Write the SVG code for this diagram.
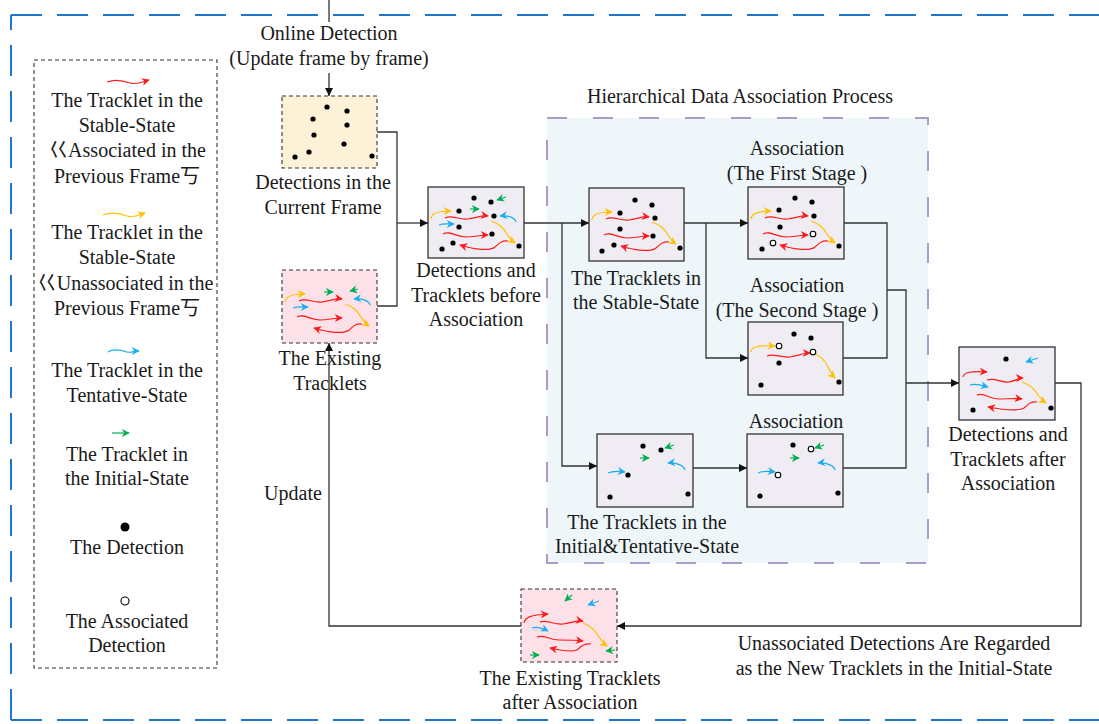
<svg xmlns="http://www.w3.org/2000/svg" width="1099" height="724" viewBox="0 0 1099 724">
<defs>
<style>
text{font-family:"Liberation Serif","Noto Sans CJK SC",serif;font-size:20px;fill:#1a1a1a;text-anchor:middle}
.conn{fill:none;stroke:#333;stroke-width:1.3}
.arr{marker-end:url(#ma)}
.box{fill:#efedf3;stroke:#222;stroke-width:1.2}
.dbox{stroke:#333;stroke-width:1.1;stroke-dasharray:4 3}
.r{fill:none;stroke:#ff1a1a;stroke-width:1.2;marker-end:url(#mr)}
.y{fill:none;stroke:#ffc000;stroke-width:1.2;marker-end:url(#my)}
.b{fill:none;stroke:#1aaef0;stroke-width:1.2;marker-end:url(#mb)}
.g{fill:none;stroke:#00b050;stroke-width:1.2;marker-end:url(#mg)}
.d{fill:#000}
.o{fill:#fff;stroke:#000;stroke-width:1.1}
</style>
<marker id="ma" viewBox="0 0 10 10" refX="10" refY="5" markerWidth="10" markerHeight="8" markerUnits="userSpaceOnUse" orient="auto"><path d="M0 0L10 5L0 10z" fill="#111"/></marker>
<marker id="mr" viewBox="0 0 10 10" refX="9" refY="5" markerWidth="9" markerHeight="8" markerUnits="userSpaceOnUse" orient="auto"><path d="M0 0L10 5L0 10L3 5z" fill="#ff1a1a"/></marker>
<marker id="my" viewBox="0 0 10 10" refX="9" refY="5" markerWidth="9" markerHeight="8" markerUnits="userSpaceOnUse" orient="auto"><path d="M0 0L10 5L0 10L3 5z" fill="#ffc000"/></marker>
<marker id="mb" viewBox="0 0 10 10" refX="9" refY="5" markerWidth="9" markerHeight="8" markerUnits="userSpaceOnUse" orient="auto"><path d="M0 0L10 5L0 10L3 5z" fill="#1aaef0"/></marker>
<marker id="mg" viewBox="0 0 10 10" refX="9" refY="5" markerWidth="8" markerHeight="8" markerUnits="userSpaceOnUse" orient="auto"><path d="M0 0L10 5L0 10L3 5z" fill="#00b050"/></marker>
<g id="stab">
<path class="y" d="M3 32C3 27 9 24 23 24"/>
<path class="r" d="M17 31C24 27 30 33 40 32C48 31 53 28 60 29"/>
<path class="y" d="M63 34C71 37 75 40 79 47C82 52 84 54 87 56"/>
<path class="r" d="M15 47C22 43 28 50 38 50C46 50 52 48 60 48"/>
<path class="r" d="M80 54C73 53 71 57 67 60C62 64 48 63 32 58"/>
</g>
<g id="tent">
<path class="g" d="M42 22L51 22"/>
<path class="b" d="M11 38C15 36 20 37 26 37"/>
<path class="b" d="M88 35C87 31 81 28 72 29"/>
</g>
</defs>

<g id="frame" fill="none" stroke="#2077c9" stroke-width="2" stroke-dasharray="31 15">
<path d="M11 15H1099"/>
<path d="M11 720V15"/>
<path d="M11 720H1099"/>
</g>

<g id="legend">
<rect x="34" y="60" width="183" height="608" fill="none" class="dbox"/>
<path class="r" d="M107 82C115 79 122 80 130 83C137 85 142 82 149 80"/>
<text x="127" y="107">The Tracklet in the</text>
<text x="127" y="132">Stable-State</text>
<text x="127" y="157">巜Associated in the</text>
<text x="127" y="183">Previous Frame丂</text>
<path class="y" d="M103 215C111 212 119 213 127 216C134 218 139 215 145 213"/>
<text x="127" y="239">The Tracklet in the</text>
<text x="127" y="264">Stable-State</text>
<text x="125" y="290">巜Unassociated in the</text>
<text x="127" y="315">Previous Frame丂</text>
<path class="b" d="M108 352C114 348 121 350 127 352C131 353 135 351 139 351"/>
<text x="127" y="377">The Tracklet in the</text>
<text x="127" y="402">Tentative-State</text>
<path class="g" d="M112 433L129 433"/>
<text x="127" y="461">The Tracklet in</text>
<text x="127" y="485">the Initial-State</text>
<circle cx="125" cy="527" r="4.5" class="d"/>
<text x="127" y="554">The Detection</text>
<circle cx="125" cy="601" r="4" class="o"/>
<text x="127" y="628">The Associated</text>
<text x="127" y="652">Detection</text>
</g>

<g id="online-detection">
<text x="329" y="40">Online Detection</text>
<text x="329" y="65">(Update frame by frame)</text>
</g>

<g id="detections-current">
<rect x="282" y="96" width="95" height="72" fill="#fdf2d8" class="dbox"/>
<g class="d">
<circle cx="327" cy="107" r="2.6"/><circle cx="347" cy="111" r="2.6"/><circle cx="313" cy="119" r="2.6"/>
<circle cx="347" cy="125" r="2.6"/><circle cx="314" cy="135" r="2.6"/><circle cx="344" cy="144" r="2.6"/>
<circle cx="309" cy="152" r="2.6"/><circle cx="295" cy="157" r="2.6"/><circle cx="372" cy="156" r="2.6"/>
</g>
<text x="323" y="189">Detections in the</text>
<text x="323" y="214">Current Frame</text>
</g>

<g id="existing-tracklets">
<rect x="282" y="270" width="95" height="73" fill="#fde1e8" class="dbox"/>
<use href="#stab" x="282" y="270"/>
<use href="#tent" x="282" y="270"/>
<path class="g" d="M358 289L350 291"/>
<text x="330" y="365">The Existing</text>
<text x="330" y="390">Tracklets</text>
</g>

<g id="before-association">
<rect x="428" y="187" width="96" height="71" class="box"/>
<g transform="translate(428,187)">
<use href="#stab"/><use href="#tent"/>
<path class="g" d="M78 10L69 13"/>
<g class="d">
<circle cx="46" cy="11" r="2.6"/><circle cx="63" cy="15" r="2.6"/><circle cx="31" cy="24" r="2.6"/>
<circle cx="66" cy="29" r="2.6"/><circle cx="31" cy="40" r="2.6"/><circle cx="64" cy="47" r="2.6"/>
<circle cx="25" cy="56" r="2.6"/><circle cx="14" cy="62" r="2.6"/><circle cx="91" cy="59" r="2.6"/>
</g>
</g>
<text x="476" y="277">Detections and</text>
<text x="476" y="302">Tracklets before</text>
<text x="476" y="326">Association</text>
</g>

<g id="hierarchical-process">
<rect x="547" y="118" width="381" height="445" fill="#eef6fa" stroke="#a99cc9" stroke-width="2" stroke-dasharray="20 26"/>
<text x="740" y="103">Hierarchical Data Association Process</text>
</g>

<g id="stable-state">
<rect x="589" y="188" width="95" height="73" class="box"/>
<g transform="translate(589,188)">
<use href="#stab"/>
<g class="d">
<circle cx="46" cy="12" r="2.6"/><circle cx="63" cy="17" r="2.6"/><circle cx="31" cy="25" r="2.6"/>
<circle cx="66" cy="30" r="2.6"/><circle cx="31" cy="41" r="2.6"/><circle cx="64" cy="48" r="2.6"/>
<circle cx="25" cy="57" r="2.6"/><circle cx="13" cy="63" r="2.6"/><circle cx="91" cy="60" r="2.6"/>
</g>
</g>
<text x="636" y="285">The Tracklets in</text>
<text x="636" y="309">the Stable-State</text>
</g>

<g id="association-first">
<text x="797" y="155">Association</text>
<text x="797" y="180">(The First Stage )</text>
<rect x="748" y="187" width="96" height="72" class="box"/>
<g transform="translate(748,187)">
<use href="#stab"/>
<g class="d">
<circle cx="47" cy="11" r="2.6"/><circle cx="64" cy="15" r="2.6"/><circle cx="31" cy="23" r="2.6"/>
<circle cx="66" cy="29" r="2.6"/><circle cx="32" cy="40" r="2.6"/>
<circle cx="14" cy="62" r="2.6"/><circle cx="91" cy="59" r="2.6"/>
</g>
<circle cx="65" cy="47" r="2.8" class="o"/><circle cx="25" cy="56" r="2.8" class="o"/>
</g>
</g>

<g id="association-second">
<text x="797" y="292">Association</text>
<text x="797" y="317">(The Second Stage )</text>
<rect x="748" y="322" width="95" height="73" class="box"/>
<g transform="translate(748,322)">
<path class="y" d="M3 30C3 25 10 23 27 24"/>
<path class="r" d="M19 34C26 31 32 36 42 35C50 34 55 31 62 31"/>
<path class="y" d="M65 31C73 34 77 38 80 45C83 51 85 54 87 56"/>
<g class="d">
<circle cx="46" cy="12" r="2.6"/><circle cx="63" cy="16" r="2.6"/><circle cx="31" cy="41" r="2.6"/>
<circle cx="13" cy="63" r="2.6"/><circle cx="91" cy="60" r="2.6"/>
</g>
<circle cx="31" cy="24" r="2.8" class="o"/><circle cx="65" cy="30" r="2.8" class="o"/>
</g>
</g>

<g id="initial-tentative">
<rect x="597" y="434" width="96" height="73" class="box"/>
<g transform="translate(597,434)">
<path class="g" d="M43 24L52 24"/>
<path class="g" d="M77 11L68 14"/>
<path class="b" d="M11 39C15 37 21 37 28 38"/>
<path class="b" d="M88 36C87 32 80 28 71 29"/>
<g class="d">
<circle cx="46" cy="12" r="2.6"/><circle cx="64" cy="16" r="2.6"/><circle cx="31" cy="41" r="2.6"/>
<circle cx="13" cy="63" r="2.6"/><circle cx="91" cy="60" r="2.6"/>
</g>
</g>
<text x="647" y="529">The Tracklets in the</text>
<text x="647" y="553">Initial&amp;Tentative-State</text>
</g>

<g id="association-third">
<text x="796" y="428">Association</text>
<rect x="747" y="434" width="96" height="73" class="box"/>
<g transform="translate(747,434)">
<path class="g" d="M43 24L52 24"/>
<path class="g" d="M77 11L68 14"/>
<path class="b" d="M11 39C15 37 21 37 28 38"/>
<path class="b" d="M88 36C87 32 80 28 71 29"/>
<g class="d">
<circle cx="46" cy="11" r="2.6"/><circle cx="13" cy="62" r="2.6"/><circle cx="91" cy="59" r="2.6"/>
</g>
<circle cx="64" cy="15" r="2.8" class="o"/><circle cx="31" cy="41" r="2.8" class="o"/>
</g>
</g>

<g id="after-association">
<rect x="959" y="347" width="96" height="73" class="box"/>
<g transform="translate(959,347)">
<path class="r" d="M4 30C5 25 12 24 28 25"/>
<path class="b" d="M11 38C16 36 22 38 29 40"/>
<path class="r" d="M28 33C36 30 42 36 50 35C56 34 59 31 64 31"/>
<path class="y" d="M63 35C71 38 75 41 79 48C82 52 84 54 87 56"/>
<path class="r" d="M18 48C25 45 30 52 40 52C48 52 56 51 63 52"/>
<path class="r" d="M78 55C71 54 69 58 65 61C60 64 46 63 29 60"/>
<path class="b" d="M79 11L67 15"/>
<g class="d">
<circle cx="47" cy="12" r="2.6"/><circle cx="14" cy="63" r="2.6"/><circle cx="92" cy="61" r="2.6"/>
</g>
</g>
<text x="1008" y="441">Detections and</text>
<text x="1008" y="466">Tracklets after</text>
<text x="1008" y="490">Association</text>
</g>

<g id="existing-after">
<rect x="521" y="589" width="96" height="73" fill="#fde1e8" class="dbox"/>
<g transform="translate(521,589)">
<path class="g" d="M51 6L44 12"/>
<path class="b" d="M78 12L67 16"/>
<path class="r" d="M3 34C4 28 10 26 27 25"/>
<path class="r" d="M19 33C26 30 32 36 42 35C50 34 56 31 62 32"/>
<path class="b" d="M11 39C16 37 21 39 27 42"/>
<path class="y" d="M62 34C70 37 74 41 78 48C81 53 83 55 86 57"/>
<path class="r" d="M16 48C23 45 28 51 38 51C46 51 54 51 62 52"/>
<path class="r" d="M70 55C62 54 60 58 56 61C51 63 42 62 29 59"/>
<path class="g" d="M9 66L18 66"/>
<path class="g" d="M94 61L85 62"/>
</g>
<text x="570" y="685">The Existing Tracklets</text>
<text x="570" y="709">after Association</text>
</g>

<g id="labels">
<text x="293" y="500">Update</text>
<text x="894" y="650">Unassociated Detections Are Regarded</text>
<text x="894" y="675">as the New Tracklets in the Initial-State</text>
</g>

<g id="connectors" class="conn">
<path d="M329 0V22"/>
<path class="arr" d="M329 73V96"/>
<path d="M377 132H397V306H377"/>
<path class="arr" d="M397 223H428"/>
<path class="arr" d="M524 223H589"/>
<path class="arr" d="M562 223V466H597"/>
<path class="arr" d="M684 223H748"/>
<path class="arr" d="M706 223V358H748"/>
<path d="M844 223H887V358H843"/>
<path d="M887 290H906V468H843"/>
<path class="arr" d="M906 383H959"/>
<path class="arr" d="M693 468H747"/>
<path class="arr" d="M1055 383H1081V626H617"/>
<path class="arr" d="M521 626H329V343"/>
</g>
</svg>
